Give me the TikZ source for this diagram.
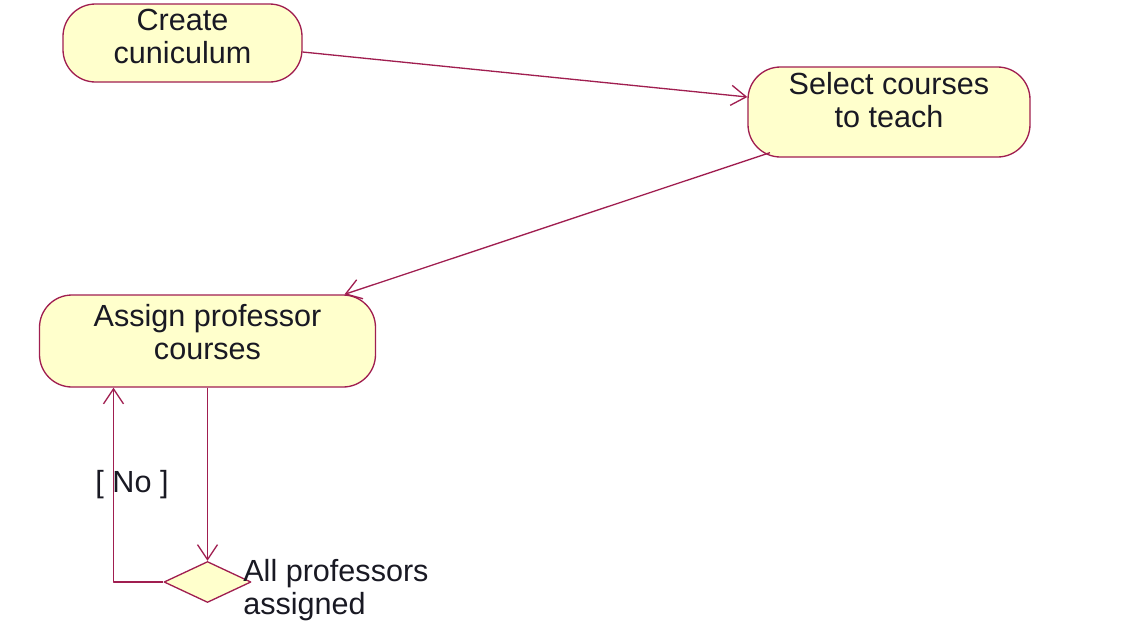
\documentclass[tikz,border=0pt]{standalone}
\usepackage{fontspec}
\setmainfont{Liberation Sans}
\usepackage{xcolor}
\usetikzlibrary{arrows.meta,shapes.geometric}

\definecolor{roseline}{RGB}{160,30,80}
\definecolor{rosefill}{RGB}{255,255,204}
\definecolor{rosetext}{RGB}{25,25,35}

\begin{document}
\begin{tikzpicture}[line join=round,
  >={Straight Barb[length=0.3cm,width=0.4cm]},
  every node/.style={font=\fontsize{17.4pt}{18.8pt}\selectfont,text=rosetext},
  activity/.style={draw=roseline,fill=rosefill,line width=0.75pt,rectangle,
    rounded corners=0.65cm,align=center,inner sep=0pt},
  decision/.style={draw=roseline,fill=rosefill,line width=0.75pt,diamond,
    inner sep=0pt,minimum width=1.74cm,minimum height=0.82cm},
  flow/.style={draw=roseline,line width=0.75pt,->}]

  % ===== page frame (1124 x 636 px, 50 px = 1 cm) =====
  \useasboundingbox (0,0) rectangle (22.48,-12.72);

  %% ---------------------------------------------------------------
  %% activities
  %% ---------------------------------------------------------------
  \node[activity,minimum width=4.78cm,minimum height=1.56cm,text depth=0.26cm]
    (create) at (3.65,-0.86) {Create\\cuniculum};
  \node[activity,minimum width=5.64cm,minimum height=1.8cm,text depth=0.48cm]
    (select) at (17.78,-2.24) {Select courses\\to teach};
  \node[activity,minimum width=6.72cm,minimum height=1.84cm,text depth=0.38cm]
    (assign) at (4.15,-6.82) {Assign professor\\courses};

  %% ---------------------------------------------------------------
  %% decision with guard
  %% ---------------------------------------------------------------
  \node[decision] (check) at (4.15,-11.64) {};
  \node[anchor=west,align=left,inner sep=0pt] (checklbl) at (4.86,-11.81)
    {All professors\\assigned};
  \node (guard) at (2.64,-9.7) {[ No ]};

  %% ---------------------------------------------------------------
  %% transitions
  %% ---------------------------------------------------------------
  \draw[flow] ([yshift=-0.18cm]create.east) -- ([yshift=0.3cm]select.west);
  \draw[flow] ([xshift=-2.38cm,yshift=0.1cm]select.south) -- ([xshift=2.74cm]assign.north);
  \draw[flow] (assign.south) -- (check.north);
  \draw[flow] (check.west) -| ([xshift=-1.88cm]assign.south);

\end{tikzpicture}
\end{document}
